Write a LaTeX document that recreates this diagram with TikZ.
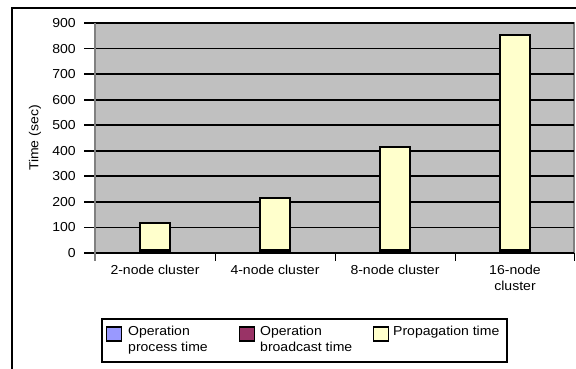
\documentclass[tikz,border=0pt]{standalone}
\usepackage{fontspec}
\setmainfont{Liberation Sans}[FakeStretch=1.08]
\definecolor{plotgray}{HTML}{C0C0C0}
\definecolor{bordergray}{HTML}{808080}
\definecolor{propyellow}{HTML}{FFFFCC}
\definecolor{procblue}{HTML}{9999FF}
\definecolor{bcastmaroon}{HTML}{993366}
\begin{document}
\begin{tikzpicture}[x=1pt,y=-1pt,
  lbl/.style={font=\fontsize{13}{16}\selectfont, inner sep=0pt},
  grid/.style={black, line width=1.8pt},
  barbox/.style={draw=black, line width=1.8pt, fill=propyellow},
  keybox/.style={draw=black, line width=1.6pt, minimum width=15pt, minimum height=14pt, inner sep=0pt}]
\useasboundingbox (0,0) rectangle (576,369);
\fill[white] (0,0) rectangle (576,369);
% outer frame
\draw[black, line width=1.6pt] (12,369) -- (12,8) -- (576,8);
% plot area
\fill[plotgray] (95,23) rectangle (574,253);
\draw[bordergray, line width=1.2pt] (95,23) -- (574,23) -- (574,253);
% grid lines and ticks
\foreach \v in {0,100,...,900} {
  \pgfmathsetmacro{\yy}{253-\v/900*230}
  \draw[grid] (84,\yy) -- (574,\yy);
  \node[lbl, anchor=east] (y\v) at (76,\yy) {\v};
}
\draw[bordergray, line width=1.2pt] (95,23) -- (95,261);
\foreach \x in {215,335,455,574} \draw[black, line width=0.9pt] (\x,253) -- (\x,261);
% bars
\foreach \i/\v in {0/116,1/216,2/415,3/853} {
  \pgfmathsetmacro{\c}{155+120*\i}
  \pgfmathsetmacro{\yt}{253-\v/900*230}
  \draw[barbox] (\c-15,\yt) rectangle (\c+15,253);
  \fill[black] (\c-15.9,248.5) rectangle (\c+15.9,253.9);
}
% axis labels
\node[lbl, rotate=90] (ylab) at (35,138) {Time (sec)};
\node[lbl] (c2) at (155,270) {2-node cluster};
\node[lbl] (c4) at (275,270) {4-node cluster};
\node[lbl] (c8) at (395,270) {8-node cluster};
\node[lbl, align=center] (c16) at (515,278) {16-node\\cluster};
% legend
\draw[black, line width=1.6pt, fill=white] (102,319) rectangle (507,362);
\node[keybox, fill=procblue] (k1) at (114,334) {};
\node[lbl, anchor=north west, align=left] (t1) at (128,326) {Operation\\process time};
\node[keybox, fill=bcastmaroon] (k2) at (247,334) {};
\node[lbl, anchor=north west, align=left] (t2) at (260,326) {Operation\\broadcast time};
\node[keybox, fill=propyellow] (k3) at (381,334) {};
\node[lbl, anchor=north west, align=left] (t3) at (393,326) {Propagation time};
\end{tikzpicture}
\end{document}
